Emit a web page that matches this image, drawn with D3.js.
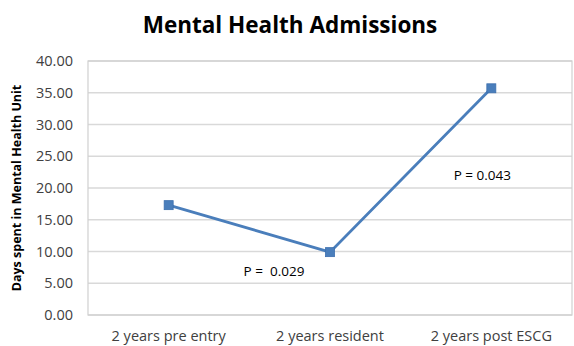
<!DOCTYPE html>
<html><head><meta charset="utf-8">
<script src="https://cdn.jsdelivr.net/npm/d3@7"></script>
<style>body{margin:0;background:#fff}svg{display:block}</style>
</head><body>
<svg id="c" width="574" height="346"></svg>
<script>
const categories = ["2 years pre entry", "2 years resident", "2 years post ESCG"];
const values = [17.3, 9.9, 35.7];
const yTicks = [0, 5, 10, 15, 20, 25, 30, 35, 40];
const annotations = [
  {between: [0, 1], text: "P =  0.029"},
  {between: [1, 2], text: "P = 0.043"}
];
const title = "Mental Health Admissions";
const yTitle = "Days spent in Mental Health Unit";

const svg = d3.select("#c");
const m = {l: 88, r: 2, t: 61, b: 31};
const W = 574, H = 346;
const x = d3.scaleBand().domain(categories).range([m.l, W - m.r]);
const y = d3.scaleLinear().domain([0, 40]).range([H - m.b, m.t]);
const font = "'Open Sans', 'Liberation Sans', sans-serif";

// gridlines
svg.append("g").selectAll("line").data(yTicks).join("line")
  .attr("x1", m.l).attr("x2", W - m.r)
  .attr("y1", d => y(d)).attr("y2", d => y(d))
  .attr("stroke", "#d9d9d9").attr("stroke-width", 1.5);
// frame
svg.append("rect").attr("x", m.l).attr("y", y(40)).attr("width", W - m.r - m.l)
  .attr("height", y(0) - y(40)).attr("fill", "none").attr("stroke", "#d0d0d0").attr("stroke-width", 1.2);

// y axis
const ya = svg.append("g").attr("transform", `translate(${m.l},0)`)
  .call(d3.axisLeft(y).tickValues(yTicks).tickFormat(d3.format(".2f")).tickSize(0).tickPadding(15));
ya.select(".domain").remove();
ya.selectAll("text").attr("font-family", font).attr("font-size", 14.5).attr("fill", "#404040");

// x axis
const xa = svg.append("g").attr("transform", `translate(0,${y(0)})`)
  .call(d3.axisBottom(x).tickSize(0).tickPadding(16));
xa.select(".domain").remove();
xa.selectAll("text").attr("font-family", font).attr("font-size", 14.5).attr("fill", "#404040");

// line
const cx = d => x(d) + x.bandwidth() / 2;
svg.append("path").datum(values)
  .attr("d", d3.line().x((d, i) => cx(categories[i])).y(d => y(d)))
  .attr("fill", "none").attr("stroke", "#4a7ebb").attr("stroke-width", 2.8);
svg.append("g").selectAll("rect").data(values).join("rect")
  .attr("x", (d, i) => cx(categories[i]) - 4.5).attr("y", d => y(d) - 4.5)
  .attr("width", 9).attr("height", 9).attr("fill", "#4a7ebb").attr("stroke", "#3c6fae").attr("stroke-width", 0.8);

// annotations
const annPos = [{dx: -56, v: 6.7}, {dx: -9, v: 21.8}];
svg.append("g").selectAll("text").data(annotations).join("text")
  .attr("x", (d, i) => cx(categories[d.between[1]]) + annPos[i].dx)
  .attr("y", (d, i) => y(annPos[i].v))
  .attr("text-anchor", "middle").attr("dominant-baseline", "middle")
  .attr("font-family", font).attr("font-size", 13.5).attr("fill", "#000")
  .style("white-space", "pre").attr("xml:space", "preserve")
  .text(d => d.text);

// title
svg.append("text").attr("x", 290).attr("y", 33).attr("text-anchor", "middle")
  .attr("font-family", font).attr("font-weight", "bold").attr("font-size", 22.5).attr("fill", "#000")
  .text(title);
// y title
svg.append("text").attr("transform", `translate(21,${(y(0) + y(40)) / 2}) rotate(-90)`)
  .attr("text-anchor", "middle").attr("font-family", font).attr("font-weight", "bold")
  .attr("font-size", 12.5).attr("fill", "#000").text(yTitle);
</script>
</body></html>
